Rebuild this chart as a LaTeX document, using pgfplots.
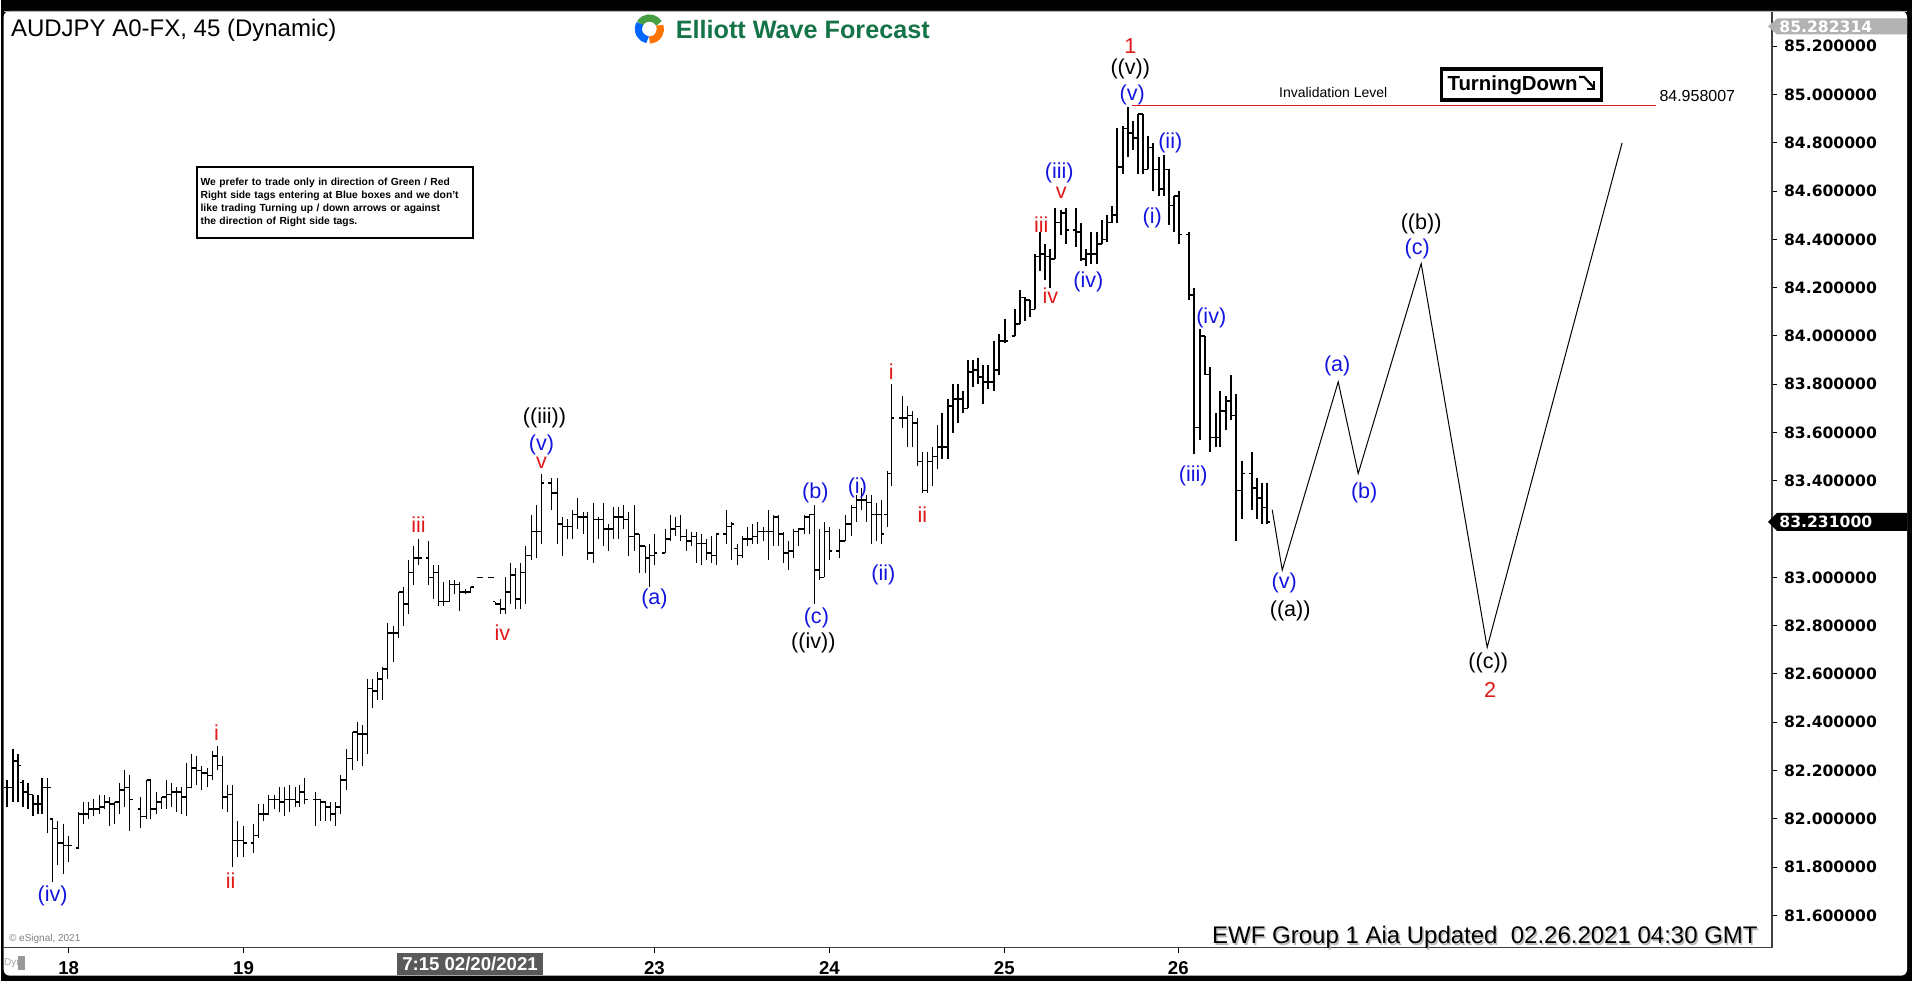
\documentclass[border=0pt]{standalone}
\usepackage{pgfplots}
\pgfplotsset{compat=1.18}
\usepackage{pgfplotstable}
\usepackage{graphicx}
\usepackage{fontspec}
\setmainfont{Liberation Sans}
\newfontfamily\dejavu{DejaVu Sans}
\definecolor{wblue}{RGB}{20,20,225}
\definecolor{wred}{RGB}{225,25,25}
\definecolor{ewfgreen}{RGB}{25,135,85}

\pgfdeclareplotmark{otick}{\pgfpathmoveto{\pgfqpoint{-1.5pt}{0pt}}\pgfpathlineto{\pgfqpoint{0pt}{0pt}}\pgfusepathqstroke}
\pgfdeclareplotmark{ctick}{\pgfpathmoveto{\pgfqpoint{0pt}{0pt}}\pgfpathlineto{\pgfqpoint{1.5pt}{0pt}}\pgfusepathqstroke}

\pgfplotstableread{
x o h l c
6 82.13 82.16 82.05 82.13
12 82.13 82.29 82.07 82.24
17 82.24 82.27 82.07 82.22
22 82.15 82.16 82.05 82.11
27 82.11 82.15 82.04 82.10
32 82.10 82.10 82.01 82.06
37 82.06 82.10 82.02 82.06
41 82.06 82.17 82.02 82.13
47 82.13 82.17 81.94 82.13
52 82.00 82.00 81.74 81.96
57 81.96 81.99 81.81 81.90
63 81.90 81.98 81.77 81.89
68 81.89 81.93 81.82 81.89
78 81.88 82.03 81.88 82.02
83 82.02 82.07 81.98 82.02
88 82.02 82.07 82.00 82.04
93 82.04 82.08 82.01 82.04
99 82.04 82.10 82.02 82.05
104 82.05 82.10 82.04 82.07
109 82.07 82.09 81.97 82.06
114 82.06 82.07 81.98 82.07
119 82.07 82.15 82.02 82.12
124 82.12 82.20 82.05 82.13
129 82.13 82.18 81.95 82.08
140 82.04 82.09 81.96 82.01
146 82.01 82.16 82.00 82.16
150 82.16 82.16 82.00 82.04
156 82.04 82.11 82.02 82.07
161 82.07 82.09 82.04 82.09
166 82.09 82.16 82.04 82.10
171 82.10 82.15 82.05 82.11
176 82.11 82.13 82.03 82.11
181 82.11 82.13 82.02 82.09
186 82.09 82.23 82.01 82.13
191 82.13 82.27 82.13 82.21
196 82.21 82.26 82.14 82.20
201 82.20 82.22 82.12 82.19
207 82.19 82.21 82.13 82.18
212 82.18 82.28 82.16 82.26
217 82.26 82.30 82.20 82.22
222 82.22 82.26 82.04 82.09
227 82.09 82.14 82.03 82.10
232 82.10 82.14 81.80 81.91
237 81.91 81.99 81.84 81.91
243 81.91 81.97 81.84 81.90
253 81.90 81.98 81.86 81.93
258 81.93 82.06 81.92 82.02
263 82.02 82.06 81.99 82.02
268 82.02 82.10 82.02 82.08
274 82.08 82.10 82.04 82.08
279 82.08 82.13 82.03 82.07
284 82.07 82.13 82.01 82.08
289 82.08 82.14 82.03 82.08
295 82.08 82.13 82.05 82.07
299 82.07 82.14 82.05 82.11
304 82.11 82.17 82.06 82.08
315 82.08 82.11 81.97 82.08
320 82.08 82.08 81.99 82.07
325 82.07 82.07 81.99 82.05
330 82.05 82.07 81.99 82.02
335 82.02 82.07 81.97 82.05
340 82.05 82.18 82.02 82.16
346 82.16 82.29 82.12 82.25
352 82.25 82.36 82.20 82.36
357 82.36 82.40 82.24 82.35
362 82.35 82.39 82.22 82.35
367 82.35 82.58 82.27 82.54
372 82.54 82.58 82.46 82.53
377 82.53 82.61 82.49 82.58
382 82.58 82.63 82.49 82.62
387 82.62 82.81 82.58 82.77
393 82.77 82.80 82.65 82.77
398 82.77 82.94 82.75 82.94
403 82.94 82.96 82.80 82.89
408 82.89 83.07 82.85 83.02
413 83.02 83.13 82.97 83.08
418 83.08 83.16 83.05 83.08
428 83.08 83.15 82.97 83.00
433 83.00 83.05 82.91 83.02
438 83.02 83.05 82.88 82.90
443 82.90 82.98 82.88 82.90
449 82.90 82.99 82.90 82.97
454 82.97 82.99 82.93 82.97
459 82.97 82.98 82.86 82.94
465 82.94 82.95 82.93 82.94
470 82.94 82.96 82.94 82.96
479 83.00 83.00 83.00 83.00
490 83.00 83.00 83.00 83.00
495 82.90 82.90 82.89 82.89
500 82.89 82.91 82.85 82.87
505 82.87 83.00 82.85 82.94
510 82.94 83.06 82.89 83.01
515 83.01 83.04 82.87 82.91
520 82.91 83.06 82.87 83.02
525 83.02 83.13 82.89 83.09
531 83.09 83.26 83.07 83.19
536 83.19 83.30 83.08 83.19
541 83.19 83.43 83.14 83.39
551 83.39 83.41 83.28 83.35
557 83.35 83.41 83.14 83.22
562 83.22 83.25 83.09 83.21
567 83.21 83.24 83.16 83.21
572 83.21 83.28 83.16 83.26
577 83.26 83.33 83.20 83.25
583 83.25 83.27 83.18 83.25
587 83.25 83.27 83.07 83.10
593 83.10 83.31 83.06 83.24
598 83.24 83.25 83.16 83.24
603 83.24 83.31 83.13 83.20
608 83.20 83.22 83.11 83.20
613 83.20 83.29 83.16 83.25
618 83.25 83.29 83.16 83.25
623 83.25 83.30 83.20 83.24
628 83.24 83.27 83.09 83.17
634 83.17 83.30 83.11 83.18
639 83.18 83.18 83.02 83.13
645 83.13 83.13 83.02 83.08
649 83.08 83.14 82.96 83.09
654 83.09 83.18 83.05 83.10
665 83.10 83.20 83.10 83.16
670 83.16 83.26 83.15 83.20
675 83.20 83.25 83.17 83.21
680 83.21 83.26 83.15 83.17
686 83.17 83.20 83.11 83.15
691 83.15 83.19 83.13 83.17
696 83.17 83.19 83.06 83.14
701 83.14 83.18 83.05 83.14
706 83.14 83.16 83.07 83.10
711 83.10 83.17 83.06 83.09
716 83.09 83.18 83.05 83.18
726 83.18 83.28 83.14 83.21
731 83.21 83.23 83.07 83.22
737 83.12 83.14 83.05 83.09
742 83.09 83.17 83.08 83.16
747 83.16 83.21 83.13 83.16
752 83.16 83.22 83.14 83.17
757 83.17 83.23 83.14 83.19
763 83.19 83.21 83.15 83.19
768 83.19 83.28 83.07 83.19
773 83.19 83.26 83.13 83.25
778 83.25 83.26 83.13 83.18
783 83.18 83.19 83.06 83.10
788 83.10 83.15 83.03 83.11
793 83.11 83.20 83.08 83.19
798 83.19 83.20 83.13 83.20
804 83.20 83.26 83.18 83.25
809 83.25 83.26 83.18 83.26
814 83.26 83.30 82.89 83.03
819 83.03 83.20 82.99 83.00
824 83.00 83.23 83.00 83.19
829 83.19 83.21 83.07 83.11
839 83.11 83.20 83.08 83.15
845 83.15 83.26 83.15 83.22
851 83.22 83.30 83.17 83.29
856 83.29 83.34 83.23 83.32
861 83.32 83.37 83.28 83.32
866 83.32 83.34 83.23 83.31
871 83.31 83.34 83.14 83.26
876 83.26 83.31 83.15 83.26
881 83.26 83.32 83.14 83.18
887 83.26 83.44 83.21 83.43
891 83.43 83.80 83.38 83.66
902 83.66 83.75 83.62 83.66
907 83.66 83.71 83.54 83.67
912 83.67 83.69 83.54 83.64
917 83.64 83.66 83.46 83.48
922 83.48 83.52 83.35 83.36
927 83.36 83.52 83.35 83.48
932 83.48 83.54 83.38 83.50
937 83.50 83.63 83.45 83.54
942 83.54 83.68 83.49 83.54
948 83.54 83.74 83.49 83.71
953 83.71 83.80 83.60 83.74
958 83.74 83.80 83.64 83.74
963 83.74 83.77 83.68 83.70
968 83.70 83.90 83.70 83.85
973 83.85 83.90 83.79 83.86
978 83.86 83.91 83.80 83.83
983 83.83 83.88 83.72 83.81
988 83.81 83.88 83.78 83.81
994 83.81 83.98 83.77 83.86
999 83.86 84.01 83.84 83.98
1005 83.98 84.07 83.97 83.98
1015 84.00 84.11 84.00 84.05
1020 84.05 84.19 84.05 84.16
1025 84.16 84.16 84.06 84.15
1030 84.15 84.15 84.08 84.11
1035 84.11 84.34 84.11 84.33
1040 84.33 84.43 84.27 84.34
1045 84.34 84.38 84.23 84.33
1050 84.33 84.36 84.20 84.32
1055 84.32 84.53 84.32 84.47
1061 84.47 84.52 84.42 84.51
1066 84.51 84.53 84.38 84.44
1076 84.44 84.53 84.37 84.43
1081 84.43 84.47 84.31 84.32
1086 84.32 84.36 84.29 84.34
1091 84.34 84.43 84.30 84.34
1097 84.34 84.43 84.30 84.38
1102 84.38 84.48 84.38 84.40
1107 84.40 84.50 84.39 84.47
1112 84.47 84.54 84.47 84.50
1117 84.50 84.86 84.47 84.70
1123 84.70 84.87 84.67 84.86
1128 84.86 84.95 84.74 84.84
1133 84.84 84.89 84.77 84.82
1138 84.82 84.92 84.67 84.92
1143 84.92 84.92 84.67 84.69
1148 84.69 84.83 84.69 84.78
1153 84.78 84.80 84.60 84.69
1159 84.69 84.74 84.58 84.61
1164 84.61 84.75 84.58 84.69
1169 84.69 84.69 84.46 84.54
1174 84.54 84.58 84.43 84.58
1179 84.58 84.60 84.38 84.42
1189 84.42 84.43 84.15 84.17
1194 84.17 84.20 83.51 83.62
1200 83.62 84.03 83.57 84.00
1205 84.00 84.00 83.84 83.84
1210 83.84 83.87 83.52 83.58
1216 83.58 83.68 83.54 83.58
1220 83.58 83.77 83.54 83.69
1226 83.69 83.75 83.61 83.73
1231 83.73 83.84 83.65 83.67
1236 83.67 83.76 83.15 83.36
1242 83.36 83.48 83.24 83.43
1252 83.43 83.52 83.28 83.37
1257 83.37 83.41 83.24 83.33
1262 83.33 83.39 83.22 83.29
1267 83.29 83.39 83.22 83.23
}\bars

\pgfplotstableread{
x p
1272 83.28
1282 83.03
1338 83.81
1358 83.43
1421 84.30
1487 82.71
1622 84.80
}\proj

\tikzset{wl/.style={font=\fontsize{10.8}{12}\selectfont, inner sep=0pt}}

\begin{document}
\begin{tikzpicture}
\begin{scope}[x=0.5pt,y=-0.5pt]
\fill[black] (0,0) rectangle (1912,981);
\fill[white,rounded corners=3pt] (3,11) rectangle (1907,976);
\draw[gray!60,line width=0.8pt] (3,11.5) -- (1907,11.5);
\end{scope}
\begin{axis}[at={(1.5pt,-474pt)}, anchor=south west, scale only axis,
  width=884.5pt, height=468pt,
  xmin=3, xmax=1772, ymin=81.466, ymax=85.342,
  enlargelimits=false, clip=false,
  axis x line*=bottom, axis y line*=right,
  axis line style={black!75, line width=0.6pt},
  tick align=outside, major tick length=2.5pt,
  tick style={black, line width=0.5pt},
  xtick={68,243,654,829,1004,1178},
  xticklabels={18,19,23,24,25,26},
  xticklabel style={font=\bfseries\fontsize{9.3}{10}\selectfont, yshift=-1pt},
  ytick={81.6,81.8,82,82.2,82.4,82.6,82.8,83,83.4,83.6,83.8,84,84.2,84.4,84.6,84.8,85,85.2},
  yticklabel style={font=\dejavu\bfseries\fontsize{7.8}{9}\selectfont,
    /pgf/number format/fixed, /pgf/number format/fixed zerofill,
    /pgf/number format/precision=6, /pgf/number format/1000 sep={}},
  /pgf/number format/assume math mode=true,
]
% high-low bars
\addplot[draw=none, mark=none, forget plot,
  error bars/.cd, y dir=plus, y explicit, error mark=none,
  error bar style={draw=black, solid, line width=0.85pt}]
  table[x=x, y=l, y error plus expr=\thisrow{h}-\thisrow{l}] {\bars};
% open ticks
\addplot[only marks, mark=otick, mark options={black, line width=0.8pt}]
  table[x=x, y=o] {\bars};
% close ticks
\addplot[only marks, mark=ctick, mark options={black, line width=0.8pt}]
  table[x=x, y=c] {\bars};
% projection
\addplot[black, line width=0.5pt, mark=none] table[x=x, y=p] {\proj};
% invalidation level
\addplot[wred, line width=0.8pt, mark=none] coordinates {(1132,84.955) (1656,84.955)};

% wave labels
\node[wl,text=wblue] at (axis cs:52,81.68) {(iv)};
\node[wl,text=wblue] at (axis cs:654,82.91) {(a)};
\node[wl,text=wblue] at (axis cs:815,83.35) {(b)};
\node[wl,text=wblue] at (axis cs:816,82.83) {(c)};
\node[wl,text=wblue] at (axis cs:857,83.37) {(i)};
\node[wl,text=wblue] at (axis cs:883,83.01) {(ii)};
\node[wl,text=wblue] at (axis cs:541,83.55) {(v)};
\node[wl,text=wblue] at (axis cs:1059,84.675) {(iii)};
\node[wl,text=wblue] at (axis cs:1088,84.225) {(iv)};
\node[wl,text=wblue] at (axis cs:1132,85.00) {(v)};
\node[wl,text=wblue] at (axis cs:1170,84.80) {(ii)};
\node[wl,text=wblue] at (axis cs:1152,84.49) {(i)};
\node[wl,text=wblue] at (axis cs:1211,84.075) {(iv)};
\node[wl,text=wblue] at (axis cs:1193,83.42) {(iii)};
\node[wl,text=wblue] at (axis cs:1284,82.975) {(v)};
\node[wl,text=wblue] at (axis cs:1337,83.875) {(a)};
\node[wl,text=wblue] at (axis cs:1364,83.35) {(b)};
\node[wl,text=wblue] at (axis cs:1417,84.36) {(c)};
\node[wl,text=wred] at (axis cs:216,82.355) {i};
\node[wl,text=wred] at (axis cs:230,81.745) {ii};
\node[wl,text=wred] at (axis cs:418,83.22) {iii};
\node[wl,text=wred] at (axis cs:502,82.77) {iv};
\node[wl,text=wred] at (axis cs:541,83.475) {v};
\node[wl,text=wred] at (axis cs:891,83.85) {i};
\node[wl,text=wred] at (axis cs:922,83.26) {ii};
\node[wl,text=wred] at (axis cs:1041,84.46) {iii};
\node[wl,text=wred] at (axis cs:1050,84.165) {iv};
\node[wl,text=wred] at (axis cs:1061,84.595) {v};
\node[wl,text=wred] at (axis cs:1130,85.20) {1};
\node[wl,text=wred] at (axis cs:1490,82.535) {2};
\node[wl] at (axis cs:544,83.66) {((iii))};
\node[wl] at (axis cs:813,82.73) {((iv))};
\node[wl] at (axis cs:1130,85.105) {((v))};
\node[wl] at (axis cs:1290,82.86) {((a))};
\node[wl] at (axis cs:1421,84.465) {((b))};
\node[wl] at (axis cs:1488,82.645) {((c))};
\end{axis}

\begin{scope}[x=0.5pt,y=-0.5pt]
% title
\node[anchor=west, inner sep=0pt, font=\fontsize{12}{14}\selectfont] at (10,30) {AUDJPY A0-FX, 45 (Dynamic)};
% logo
\draw[line width=3.6pt, ewfgreen!80!yellow] (649,29) ++(-30:11) arc (-30:-150:11);
\draw[line width=3.6pt, orange!90!red] (649,29) ++(90:11) arc (90:-20:11);
\draw[line width=3.6pt, blue!60!cyan] (649,29) ++(210:11) arc (210:100:11);
\node[anchor=west, inner sep=0pt, text=ewfgreen!85!black, font=\bfseries\fontsize{12.6}{14}\selectfont] at (675,30) {Elliott Wave Forecast};
% note box
\node[anchor=north west, draw=black, line width=1pt, inner xsep=2pt, inner ysep=3pt,
  minimum height=35.5pt,
  align=left, text width=134pt, font=\bfseries\fontsize{5.15}{6.5}\selectfont] at (195,166)
  {We prefer to trade only in direction of Green / Red\\Right side tags entering at Blue boxes and we don't\\like trading Turning up / down arrows or against\\the direction of Right side tags.};
% invalidation text
\node[inner sep=0pt, font=\fontsize{7}{8}\selectfont] at (1333,93) {Invalidation Level};
\node[anchor=west, inner sep=0pt, font=\fontsize{8}{9}\selectfont] at (1659,96) {84.958007};
% turning down box
\draw[line width=1.6pt] (1441,69) rectangle (1601,100);
\node[anchor=west, inner sep=0pt, font=\bfseries\fontsize{10.2}{12}\selectfont] at (1447,85) {TurningDown};
\draw[line width=1.1pt] (1579,77) -- (1584,77) -- (1594,88);
\draw[line width=1.1pt] (1594,81) -- (1594,89) -- (1587,89);
% right price boxes
\fill[gray!60] (1768,26.5) -- (1777,18.5) -- (1907,18.5) -- (1907,34.5) -- (1777,34.5) -- cycle;
\node[anchor=west, inner sep=0pt, text=white, font=\dejavu\bfseries\fontsize{7.8}{9}\selectfont] at (1779,26.5) {85.282314};
\fill[black] (1768,522) -- (1777,513) -- (1907,513) -- (1907,531) -- (1777,531) -- cycle;
\node[anchor=west, inner sep=0pt, text=white, font=\dejavu\bfseries\fontsize{7.8}{9}\selectfont] at (1779,522) {83.231000};
% bottom texts
\node[anchor=base east, inner sep=0pt, text=gray!55, font=\fontsize{12}{14}\selectfont] at (1759.5,945.5) {EWF Group 1 Aia Updated\ \ 02.26.2021 04:30 GMT};
\node[anchor=base east, inner sep=0pt, font=\fontsize{12}{14}\selectfont] at (1758,944) {EWF Group 1 Aia Updated\ \ 02.26.2021 04:30 GMT};
\node[anchor=west, inner sep=0pt, text=gray, font=\fontsize{5}{6}\selectfont] at (8,939) {\textcopyright{} eSignal, 2021};
\node[anchor=west, inner sep=0pt, text=gray!70, font=\fontsize{5}{6}\selectfont] at (3,963) {Dyn};
\fill[gray!80] (17,956) rectangle (24,970);
\fill[black!65] (396,953) rectangle (543,975);
\node[inner sep=0pt, text=white, font=\bfseries\fontsize{9.3}{10}\selectfont] at (469.5,964) {7:15 02/20/2021};
\end{scope}
\end{tikzpicture}
\end{document}
